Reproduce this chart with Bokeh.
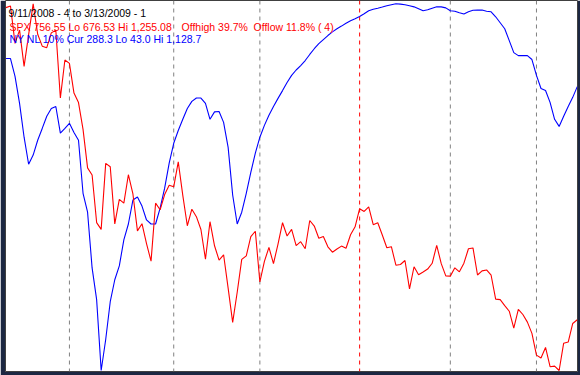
import pandas as pd
from bokeh.plotting import figure
from bokeh.models import Range1d, Span, Label
from bokeh.embed import file_html
from bokeh.resources import INLINE

# ---------------- data ----------------
start_date = "2008-09-11"
end_date = "2009-03-13"
holidays = ["2008-11-27", "2008-12-25", "2009-01-01", "2009-01-19", "2009-02-16"]

spx = [
    1249.05, 1251.70, 1192.70, 1213.60, 1156.39, 1206.51, 1255.08, 1207.09, 1188.22, 1185.87,
    1209.18, 1213.27, 1106.39, 1166.36,
    1161.06, 1114.28, 1099.23, 1056.89, 996.23, 984.94, 909.92, 899.22, 1003.35, 998.01,
    907.84, 946.43, 940.55, 985.40, 955.05, 896.78, 908.11, 876.77, 848.92, 940.51,
    930.09, 954.09, 968.75,
    966.30, 1005.75, 952.77, 904.88, 930.99, 919.21, 898.95, 852.30, 911.29, 873.29,
    850.75, 859.12, 806.58, 752.44, 800.03, 851.81, 857.39, 887.68, 896.24,
    816.21, 848.81, 870.74, 845.22, 876.07, 909.70, 888.67, 899.24, 873.59, 879.73,
    868.57, 913.18, 904.42, 885.28, 887.88, 871.63, 863.16, 868.15, 872.80, 869.42,
    890.64, 903.25,
    931.80, 927.45, 934.70, 906.65, 909.73, 890.35, 870.26, 871.79, 842.62, 843.74,
    850.12, 805.22, 840.24, 827.50, 831.95, 836.57, 845.71, 874.09, 845.14, 825.88,
    825.44, 838.51, 832.23, 845.85, 868.60, 869.89, 827.16, 833.74, 835.19, 826.84,
    789.17, 788.42, 778.94, 770.05, 743.33, 773.14, 764.90, 752.83, 735.09,
    700.82, 696.33, 712.87, 682.55, 683.38, 676.53, 719.60, 721.36, 750.74, 756.55,
]

nl10 = [
    205, 205, 258, 338, 438, 518, 491, 447, 412, 376,
    353, 347, 426, 412, 397, 424, 447, 604, 660, 825,
    919, 1128.7, 1037, 925, 860, 819, 742, 695, 624, 615,
    642, 683, 695, 695, 648, 589, 515, 456, 418, 385,
    353, 332, 322, 322, 338, 385, 363, 362, 394, 468,
    609, 695, 660, 604, 542, 485, 438, 403, 373, 347,
    323, 300, 276, 255, 239, 226, 211, 193, 176, 161,
    149, 137, 126, 117, 109, 100.5, 93, 87, 80.5, 72.5,
    63.7, 59, 56, 52.7, 49, 46, 43.0, 44, 46, 49,
    52, 57.8, 63.7, 60.7, 56, 52, 52, 55, 63.7, 65,
    69.5, 73.4, 66.6, 62, 61.6, 61.6, 65, 66.6, 81.4, 99,
    116.8, 152, 187.6, 196.4, 196.4, 196.4, 208, 255, 293.8, 299.7,
    335, 385, 406, 376, 347, 320, 288.3,
]

title_text = "9/11/2008 - 4 to 3/13/2009 - 1"

# ---------------- derived ----------------
dates = pd.bdate_range(start_date, end_date)
dates = dates[~dates.isin(pd.to_datetime(holidays))]
idx = list(range(len(dates)))

spx_hi, spx_lo, spx_cur = max(spx), min(spx), spx[-1]
off_high = (spx_hi - spx_cur) / spx_hi * 100
off_low = (spx_cur - spx_lo) / spx_lo * 100
days_since_low = len(spx) - 1 - spx.index(spx_lo)
nl_hi, nl_lo, nl_cur = max(nl10), min(nl10), nl10[-1]

# ---------------- layout ----------------
W, H = 580, 375
B_LEFT, B_RIGHT, B_TOP, B_BOTTOM = 5, 3, 0, 4
frame_h = H - B_TOP - B_BOTTOM
pad_top_px, pad_bot_px = 3.3, 1.0
usable = frame_h - pad_top_px - pad_bot_px

u = (spx_hi - spx_lo) / usable
ub = (nl_hi - nl_lo) / usable

p = figure(
    width=W, height=H, output_backend="svg", toolbar_location=None,
    x_axis_location=None, y_axis_location=None,
    x_range=Range1d(-0.1, len(idx) - 1 + 0.05),
    y_range=Range1d(spx_lo - pad_bot_px * u, spx_hi + pad_top_px * u),
    min_border_left=B_LEFT, min_border_right=B_RIGHT,
    min_border_top=B_TOP, min_border_bottom=B_BOTTOM,
)
p.extra_y_ranges = {"nl": Range1d(nl_hi + pad_bot_px * ub, nl_lo - pad_top_px * ub)}
p.grid.visible = False
p.background_fill_color = "#ffffff"
p.border_fill_color = "#1c2742"
p.outline_line_color = "#404040"
p.outline_line_width = 1

# month separators
for i in range(1, len(dates)):
    if dates[i].month != dates[i - 1].month:
        col = "#ff0000" if dates[i].year != dates[i - 1].year else "#808080"
        p.add_layout(Span(location=i, dimension="height", line_color=col,
                          line_dash="4 4", line_width=1, level="underlay"))

p.line(idx, nl10, color="#0000ff", line_width=1.1, y_range_name="nl")
p.line(idx, spx, color="#ff0000", line_width=1.1)

FONT = "Liberation Sans"
FS = "10.5px"

def lab(x, y, text, color):
    p.add_layout(Label(x=x, y=y, x_units="screen", y_units="screen", text=text,
                       text_color=color, text_font=FONT, text_font_size=FS,
                       text_baseline="alphabetic", text_align="left"))

lab(3, frame_h - 12.3, title_text, "#000000")
lab(4, frame_h - 26.7, f"SPX {spx_cur:,.2f} Lo {spx_lo:,.2f} Hi {spx_hi:,.2f}", "#ff0000")
lab(176, frame_h - 26.7, f"Offhigh {off_high:.1f}%", "#ff0000")
lab(248, frame_h - 26.7, f"Offlow {off_low:.1f}% ( {days_since_low})", "#ff0000")
lab(4, frame_h - 38.3, f"NY NL 10% Cur {nl_cur:,.1f}", "#0000ff")
lab(110, frame_h - 38.3, f"Lo {nl_lo:,.1f} Hi {nl_hi:,.1f}", "#0000ff")

open("out.html", "w").write(file_html(p, INLINE))
